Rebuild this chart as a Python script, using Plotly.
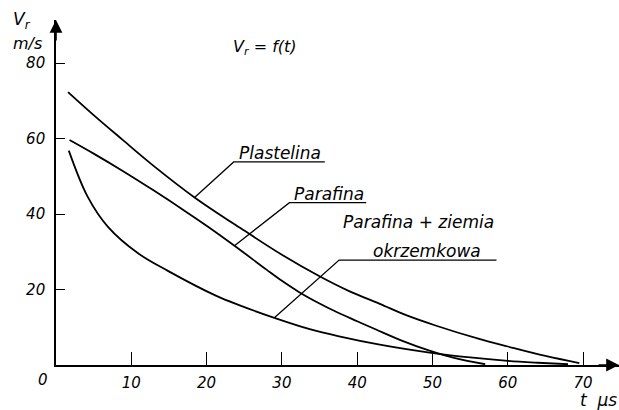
import plotly.graph_objects as go

# ---- data ----
t_plastelina = [1.6, 5, 8.7, 13, 18.4, 25, 30, 35, 39, 43, 46.5, 50.5, 56.2, 60, 65, 69.5]
v_plastelina = [72.3, 66.2, 59.9, 52.7, 44.4, 35.6, 29.2, 23.5, 19.5, 16.2, 13.2, 10.4, 6.9, 4.9, 2.4, 0.5]

t_parafina = [1.8, 5, 8.7, 13, 17.5, 20, 23.7, 28, 30, 32.3, 35, 37, 40, 42.5, 46, 49.6, 53, 57]
v_parafina = [59.6, 56.0, 51.6, 46.2, 40.3, 36.9, 31.6, 25.2, 22.3, 19.3, 16.3, 14.3, 11.6, 9.4, 6.4, 3.8, 1.8, 0.2]

t_ziemia = [1.7, 4.2, 6.9, 10.9, 14.8, 21.3, 24.4, 29, 33.7, 37.6, 43, 49.6, 55, 60, 64, 68]
v_ziemia = [56.8, 44.6, 36.6, 29.6, 25.0, 18.3, 15.8, 12.5, 9.5, 7.6, 5.4, 3.3, 2.0, 1.1, 0.6, 0.2]

x_ticks = [10, 20, 30, 40, 50, 60, 70]
y_ticks = [20, 40, 60, 80]

# leader lines: (curve point) -> (elbow) -> (end of underline)
leaders = {
    "Plastelina": [(18.4, 44.4), (23.6, 53.8), (35.7, 53.8)],
    "Parafina": [(23.7, 31.6), (31.0, 43.0), (41.2, 43.0)],
    "Parafina + ziemia": [(29.0, 12.5), (37.6, 27.8), (58.5, 27.8)],
}

FONT = "DejaVu Sans, Liberation Sans, sans-serif"
X_MAX = 74.77
Y_MAX = 91.4
W, H = 619, 410
L, R, T, B = 56, 0, 20, 45
pw, ph = W - L - R, H - T - B


def px(x, y):
    return (x - L) / pw, (H - B - y) / ph


fig = go.Figure()
for tt, vv in [(t_plastelina, v_plastelina), (t_parafina, v_parafina), (t_ziemia, v_ziemia)]:
    fig.add_trace(go.Scatter(x=tt, y=vv, mode="lines",
                             line=dict(color="black", width=1.8, shape="spline", smoothing=1.0),
                             showlegend=False, hoverinfo="skip"))

for name, pts in leaders.items():
    fig.add_trace(go.Scatter(x=[p[0] for p in pts], y=[p[1] for p in pts], mode="lines",
                             line=dict(color="black", width=1.3), showlegend=False, hoverinfo="skip"))

ann = []


def txt(x, y, s, size=17, yanchor="middle", xref="x", yref="y", yshift=0):
    ann.append(dict(x=x, y=y, text=s, showarrow=False, xref=xref, yref=yref, xanchor="center",
                    yanchor=yanchor, yshift=yshift,
                    font=dict(family=FONT, size=size, color="black", style="italic")))


txt(29.8, 53.8, "Plastelina", yanchor="bottom", yshift=-3)
txt(36.2, 43.0, "Parafina", yanchor="bottom", yshift=-3)
txt(49.3, 27.8, "okrzemkowa", yanchor="bottom", yshift=-3)
txt(48.1, 37.9, "Parafina + ziemia")
txt(27.7, 84.2, "V<sub>r</sub> = f(t)", size=16)

for (x, y, s, sz) in [(22, 20, "V<sub>r</sub>", 17), (27, 43, "m/s", 16),
                      (598, 400, "t  μs", 17), (43, 380, "0", 15)]:
    xx, yy = px(x, y)
    txt(xx, yy, s, size=sz, xref="paper", yref="paper")

# axis arrows
ann.append(dict(x=0, y=Y_MAX, xref="x", yref="y", ax=0, ay=22, text="", showarrow=True,
                arrowhead=2, arrowsize=1.6, arrowwidth=1.6, arrowcolor="black"))
ann.append(dict(x=X_MAX, y=0, xref="x", yref="y", ax=-22, ay=0, text="", showarrow=True,
                arrowhead=2, arrowsize=1.6, arrowwidth=1.6, arrowcolor="black"))

fig.update_layout(
    annotations=ann,
    width=W, height=H,
    margin=dict(l=L, r=R, t=T, b=B, autoexpand=False),
    paper_bgcolor="white", plot_bgcolor="white",
    font=dict(family=FONT, size=15, color="black", style="italic"),
    xaxis=dict(range=[0, X_MAX], tickvals=x_ticks, ticktext=[str(v) for v in x_ticks],
               ticks="inside", ticklen=13, tickwidth=1.4, tickcolor="black",
               showline=True, linecolor="black", linewidth=1.6, showgrid=False, zeroline=False,
               ticklabelstandoff=3, fixedrange=True),
    yaxis=dict(range=[0, Y_MAX], tickvals=y_ticks, ticktext=[str(v) for v in y_ticks],
               ticks="inside", ticklen=9, tickwidth=1.4, tickcolor="black",
               showline=True, linecolor="black", linewidth=1.6, showgrid=False, zeroline=False,
               ticklabelstandoff=6, fixedrange=True),
    showlegend=False,
)

fig.write_html("out.html", config={"displayModeBar": False},
               post_script="document.body.style.margin='0';document.body.style.overflow='hidden';")
